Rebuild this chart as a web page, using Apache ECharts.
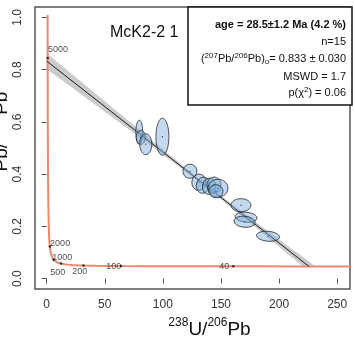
<!DOCTYPE html>
<html><head><meta charset="utf-8">
<script src="https://cdn.jsdelivr.net/npm/echarts@6/dist/echarts.min.js"></script>
<style>html,body{margin:0;padding:0;background:#fff}#c{width:355px;height:343px}</style>
</head><body><div id="c"></div>
<script>
// ---- data ----
const xTicks = [0, 50, 100, 150, 200, 250];
const yTicks = [0, 0.2, 0.4, 0.6, 0.8, 1.0];

// concordia (Tera-Wasserburg), ages in Ma
const concAge = [5250, 5000, 4500, 4000, 3500, 3000, 2500, 2000, 1500, 1000, 700, 500, 300, 200, 150, 100, 60, 40, 30, 24];
const concX = [0.795, 0.853, 0.990, 1.163, 1.387, 1.687, 2.111, 2.749, 3.817, 5.959, 8.718, 12.40, 20.99, 31.73, 42.48, 63.97, 106.9, 160.7, 214.4, 268.1];
const concY = [1.009, 0.845, 0.597, 0.425, 0.306, 0.223, 0.164, 0.123, 0.0936, 0.0725, 0.0628, 0.0572, 0.0523, 0.0501, 0.0491, 0.0480, 0.0472, 0.0468, 0.0466, 0.0465];
const tickAges = [5000, 2000, 1000, 500, 200, 100, 40];

// error ellipses: centre, semi-axes (data units), tilt (deg)
const ellX  = [79.7, 81.0, 85.3, 99.6, 123.3, 131.0, 134.5, 139.7, 144.0, 147.4, 145.7, 167.2, 171.6, 170.3, 190.5];
const ellY  = [0.5605, 0.541, 0.5146, 0.5433, 0.411, 0.369, 0.3575, 0.3536, 0.3575, 0.346, 0.3345, 0.281, 0.235, 0.2176, 0.162];
const ellSX = [3.0, 3.9, 5.2, 5.6, 6.0, 6.0, 5.6, 5.6, 6.0, 8.6, 6.0, 8.6, 9.5, 9.1, 9.9];
const ellSY = [0.046, 0.027, 0.040, 0.071, 0.027, 0.031, 0.031, 0.031, 0.031, 0.0345, 0.025, 0.025, 0.019, 0.021, 0.019];
const ellRot = [0, 0, 0, 0, -10, -10, -10, -10, 0, 0, -10, 0, -5, -5, -5];

// isochron line and its confidence band
const isoX = [0, 225.7];
const isoY = [0.833, 0.0466];
const bandUpX = [0, 25, 50, 75, 100, 125, 150, 175, 200, 225, 231];
const bandUpY = [0.863, 0.771, 0.679, 0.587, 0.495, 0.404, 0.317, 0.233, 0.150, 0.068, 0.0466];
const bandLoX = [0, 25, 50, 75, 100, 125, 150, 175, 200, 220.5];
const bandLoY = [0.803, 0.721, 0.639, 0.557, 0.474, 0.391, 0.304, 0.214, 0.122, 0.0466];

const sampleName = 'McK2-2 1';

// ---- styling ----
const FONT = 'Liberation Sans, Arial, sans-serif';
const labelOffsets = {5000: [-3, -8], 2000: [-3, -2.5], 1000: [-4.5, -2.5], 500: [-14, 8.5], 200: [-14.5, 6.5], 100: [-18, 0], 40: [-17.5, 0]};

const chart = echarts.init(document.getElementById('c'), null, {renderer: 'canvas'});

const concData = concX.map((x, i) => [x, concY[i]]);
const tickData = tickAges.map(a => {
  const i = concAge.indexOf(a);
  return {value: [concX[i], concY[i]], name: String(a), label: {offset: labelOffsets[a]}};
});
const ellData = ellX.map((x, i) => [x, ellY[i], ellSX[i], ellSY[i], ellRot[i]]);

const supRich = {fontSize: 8, lineHeight: 7, verticalAlign: 'top', fontFamily: FONT, fill: '#111'};
const mainRich = {fontSize: 11, lineHeight: 14, fontFamily: FONT, fill: '#111'};
const subRich = {fontSize: 8, lineHeight: 7, verticalAlign: 'bottom', fontFamily: FONT, fill: '#111'};

function infoText(y, text, bold) {
  return {type: 'text', x: 346, y: y, z: 20, style: {
    text: text, align: 'right', verticalAlign: 'middle', fill: '#111',
    rich: {m: Object.assign({}, mainRich, bold ? {fontWeight: 'bold'} : {}), s: supRich, b: subRich}
  }};
}

const option = {
  animation: false,
  grid: {left: 35, right: 5, top: 7, bottom: 54, show: true, borderColor: '#555', borderWidth: 1.5, backgroundColor: 'transparent'},
  xAxis: {
    type: 'value', min: -10.04, max: 261.04,
    splitLine: {show: false},
    axisLine: {show: false},
    axisTick: {show: true, inside: false, length: 5, lineStyle: {color: '#555', width: 1}, customValues: xTicks},
    axisLabel: {customValues: xTicks, color: '#333', fontSize: 12, fontFamily: FONT, margin: 10}
  },
  yAxis: {
    type: 'value', min: -0.04, max: 1.04,
    splitLine: {show: false},
    axisLine: {show: false},
    axisTick: {show: true, inside: false, length: 5, lineStyle: {color: '#555', width: 1}, customValues: yTicks},
    axisLabel: {customValues: yTicks, color: '#333', fontSize: 12, fontFamily: FONT, margin: 11, rotate: 90,
      formatter: v => v.toFixed(1)}
  },
  series: [
    {
      type: 'custom', z: 1, clip: true,
      data: [[isoX[0], isoY[0]]],
      renderItem: function (params, api) {
        const pts = [];
        for (let i = 0; i < bandUpX.length; i++) pts.push(api.coord([bandUpX[i], bandUpY[i]]));
        for (let i = bandLoX.length - 1; i >= 0; i--) pts.push(api.coord([bandLoX[i], bandLoY[i]]));
        return {type: 'polygon', shape: {points: pts}, style: {fill: 'rgba(160,160,160,0.55)'}};
      }
    },
    {
      type: 'line', z: 2, data: concData, showSymbol: false, smooth: 0.25,
      lineStyle: {color: '#F0876F', width: 2}, silent: true
    },
    {
      type: 'line', z: 3, data: isoX.map((x, i) => [x, isoY[i]]), showSymbol: false,
      lineStyle: {color: '#1a1a1a', width: 1}, silent: true
    },
    {
      type: 'custom', z: 4,
      data: ellData,
      renderItem: function (params, api) {
        const c = api.coord([api.value(0), api.value(1)]);
        const s = api.size([api.value(2), api.value(3)], [api.value(0), api.value(1)]);
        const rot = api.value(4) * Math.PI / 180;
        return {type: 'group', children: [
          {type: 'ellipse', x: c[0], y: c[1], rotation: rot, shape: {cx: 0, cy: 0, rx: s[0], ry: s[1]},
            style: {fill: 'rgba(120,170,220,0.45)', stroke: '#2b2b2b', lineWidth: 0.8}},
          {type: 'circle', shape: {cx: c[0], cy: c[1], r: 0.6}, style: {fill: '#222'}}
        ]};
      }
    },
    {
      type: 'scatter', z: 5, data: tickData, symbolSize: 2.5,
      itemStyle: {color: '#111'},
      label: {show: true, position: 'right', distance: 2, formatter: p => p.name,
        fontSize: 9, color: '#222', fontFamily: FONT}
    }
  ],
  graphic: [
    {type: 'text', x: 110, y: 33, z: 20, style: {text: sampleName, fontSize: 16, fontFamily: FONT, fill: '#111', verticalAlign: 'middle'}},
    {type: 'rect', z: 19, shape: {x: 188, y: 7, width: 164, height: 98}, style: {fill: '#fff', stroke: '#111', lineWidth: 1.5}},
    infoText(25, '{m|age = 28.5\u00b11.2 Ma (4.2 %)}', true),
    infoText(42, '{m|n=15}'),
    infoText(59, '{m|(}{s|207}{m|Pb/}{s|206}{m|Pb)}{b|o}{m|= 0.833 \u00b1 0.030}'),
    infoText(77, '{m|MSWD = 1.7}'),
    infoText(93, '{m|p(\u03c7}{s|2}{m|) = 0.06}'),
    {type: 'text', x: 209.5, y: 317, z: 20, style: {
      text: '{s|238}{m|U/}{s|206}{m|Pb}', align: 'center', verticalAlign: 'top',
      rich: {m: {fontSize: 19, lineHeight: 26, fontFamily: FONT, fill: '#111'},
             s: {fontSize: 12, lineHeight: 10, verticalAlign: 'top', fontFamily: FONT, fill: '#111'}}
    }},
    {type: 'text', x: 15, y: 145.5, rotation: Math.PI / 2, z: 20, style: {
      text: '{s|207}{m|Pb/}{s|206}{m|Pb}', align: 'center', verticalAlign: 'bottom',
      rich: {m: {fontSize: 19, lineHeight: 26, fontFamily: FONT, fill: '#111'},
             s: {fontSize: 12, lineHeight: 10, verticalAlign: 'top', fontFamily: FONT, fill: '#111', padding: [0, 4, 0, 4]}}
    }}
  ]
};
chart.setOption(option);
</script>
</body></html>
